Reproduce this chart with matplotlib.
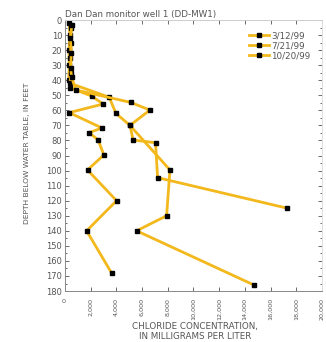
"""
Chloride profile for Dan Dan monitor well 1, three sampling dates
"""

import matplotlib
matplotlib.use('Agg')
import matplotlib.pyplot as plt
from matplotlib.ticker import MultipleLocator, FuncFormatter

plt.rcParams['font.family'] = ['DejaVu Sans']

dates = ['3/12/99', '7/21/99', '10/20/99']

# depth (ft) and chloride (mg/L) per sampling date
depth_mar = [2, 10, 20, 30, 40, 45, 50.5, 55.8, 61.5, 71.7, 74.8, 79.7, 89.6,
             99.6, 120, 140, 168]
chloride_mar = [350, 380, 320, 340, 300, 420, 2080, 2980, 335, 2880, 1890,
                2590, 3030, 1760, 4020, 1690, 3630]

depth_jul = [5, 15, 25, 35, 42, 51.3, 62, 70, 79.7, 81.5, 104.7, 125]
chloride_jul = [450, 500, 420, 480, 390, 3450, 3970, 5060, 5310, 7050, 7210,
                17300]

depth_oct = [3, 12, 22, 32, 38, 46.5, 54.7, 59.8, 70, 99.6, 130, 140, 176]
chloride_oct = [550, 420, 500, 450, 520, 860, 5110, 6610, 5060, 8170, 7910,
                5580, 14700]

line_color = '#f2b81c'
grey = '#555555'

fig = plt.figure(figsize=(3.26, 3.42), dpi=100)
ax = fig.add_axes([0.199, 0.149, 0.789, 0.7925])

for d, c, lab in [(depth_mar, chloride_mar, dates[0]),
                  (depth_jul, chloride_jul, dates[1]),
                  (depth_oct, chloride_oct, dates[2])]:
    ax.plot(c, d, color=line_color, lw=2.0, marker='s', ms=2.4,
            mfc='black', mec='black', label=lab)

ax.set_xlim(0, 20000)
ax.set_ylim(180, 0)
ax.xaxis.set_major_locator(MultipleLocator(2000))
ax.yaxis.set_major_locator(MultipleLocator(10))
ax.yaxis.set_minor_locator(MultipleLocator(5))
ax.xaxis.set_major_formatter(FuncFormatter(lambda v, p: f'{int(v):,}'))
ax.tick_params(axis='both', which='both', direction='in', colors=grey,
               top=True, right=True, width=0.6)
ax.tick_params(axis='both', which='major', length=3)
ax.tick_params(axis='both', which='minor', length=1.5)
ax.tick_params(axis='x', labelrotation=90, pad=5, labelsize=4.6)
ax.tick_params(axis='y', pad=2, labelsize=6)
for s in ax.spines.values():
    s.set_color('#888888')
    s.set_linewidth(0.7)
ax.spines['top'].set_color('#cccccc')
ax.spines['right'].set_color('#dddddd')

ax.set_title('Dan Dan monitor well 1 (DD-MW1)', fontsize=6.3, color=grey,
             loc='left', pad=2)
ax.set_ylabel('DEPTH BELOW WATER TABLE, IN FEET', fontsize=5.4, color=grey)
ax.yaxis.set_label_coords(-0.135, 0.51)
ax.set_xlabel('CHLORIDE CONCENTRATION,\nIN MILLIGRAMS PER LITER',
              fontsize=6.3, color=grey, linespacing=1.05)
ax.xaxis.set_label_coords(0.506, -0.115)

leg = ax.legend(loc='upper right', fontsize=6.3, frameon=False,
                handlelength=2.3, handletextpad=0.3, labelspacing=0.12,
                borderaxespad=0.9, labelcolor=grey)

fig.savefig('out.png', dpi=100)
